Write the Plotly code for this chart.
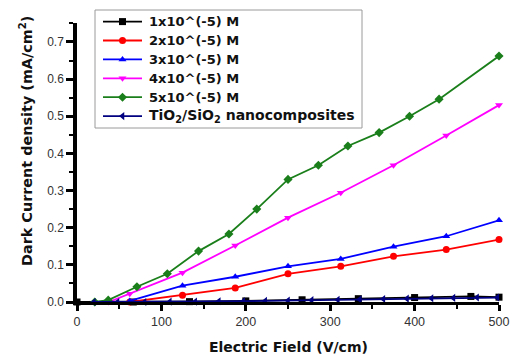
import plotly.graph_objects as go

# Electric field (V/cm) and dark current density (mA/cm^2) per sample
field_1 = [0, 66.7, 133.3, 200, 266.7, 333.3, 400, 466.7, 500]
dark_1 = [0.0, 0.0, 0.001, 0.003, 0.006, 0.009, 0.012, 0.015, 0.013]

field_2 = [62.5, 125, 187.5, 250, 312.5, 375, 437.5, 500]
dark_2 = [0.0, 0.018, 0.038, 0.076, 0.096, 0.123, 0.141, 0.168]

field_3 = [62.5, 125, 187.5, 250, 312.5, 375, 437.5, 500]
dark_3 = [0.003, 0.044, 0.068, 0.096, 0.116, 0.149, 0.177, 0.220]

field_4 = [37.5, 62.5, 125, 187.5, 250, 312.5, 375, 437.5, 500]
dark_4 = [0.0, 0.022, 0.079, 0.152, 0.227, 0.294, 0.368, 0.448, 0.530]

field_5 = [21, 37, 71, 107, 144, 180, 213, 250, 286, 321, 358, 394, 429, 500]
dark_5 = [0.0, 0.005, 0.041, 0.076, 0.137, 0.183, 0.250, 0.330, 0.368, 0.420,
          0.456, 0.500, 0.546, 0.662]

field_ref = [20, 48, 80, 110, 140, 168, 197, 223, 250, 278, 309, 335, 363, 391,
             420, 446, 474, 498]
dark_ref = [0.0, 0.0, 0.0, 0.001, 0.001, 0.002, 0.002, 0.003, 0.004, 0.005,
            0.006, 0.007, 0.008, 0.009, 0.010, 0.011, 0.012, 0.012]

labels = ["1x10^(-5) M", "2x10^(-5) M", "3x10^(-5) M", "4x10^(-5) M", "5x10^(-5) M",
          "TiO<sub>2</sub>/SiO<sub>2</sub> nanocomposites"]
fields = [field_1, field_2, field_3, field_4, field_5, field_ref]
darks = [dark_1, dark_2, dark_3, dark_4, dark_5, dark_ref]
colors = ["#000000", "#ff0000", "#0000ff", "#ff00ff", "#1a7f1a", "#000080"]
symbols = ["square", "circle", "triangle-up", "triangle-down", "diamond", "triangle-left"]
label_sizes = [13, 13, 13, 13, 13, 14]

FONT = "Liberation Sans, Arial, sans-serif"
BOLD_FONT = "DejaVu Sans, Arial, sans-serif"
MARKER_SIZE = 7

# Figure geometry (pixels) used to place the hand-built legend box
W, H = 511, 356
M_L, M_R, M_T, M_B = 77, 12, 23, 54
PW, PH = W - M_L - M_R, H - M_T - M_B


def px_x(px):
    return (px - M_L) / PW


def px_y(py):
    return (H - M_B - py) / PH


fig = go.Figure()
for name, xs, ys, color, symbol in zip(labels, fields, darks, colors, symbols):
    fig.add_trace(go.Scatter(
        x=xs, y=ys, name=name, mode="lines+markers",
        line=dict(color=color, width=1.8),
        marker=dict(color=color, symbol=symbol, size=MARKER_SIZE),
        cliponaxis=False, showlegend=False,
    ))

# Legend: framed box with a line sample, marker and label per series
LEG_L, LEG_R, LEG_T, LEG_B = 95, 362, 10, 128
ROW0, ROW_H = 21.6, 18.9
SAMPLE_X0, SAMPLE_X1, TEXT_X = 103, 142, 147
SAMPLE_MID = (SAMPLE_X0 + SAMPLE_X1) / 2

shapes = [dict(type="rect", xref="paper", yref="paper",
               x0=px_x(LEG_L), x1=px_x(LEG_R), y0=px_y(LEG_B), y1=px_y(LEG_T),
               line=dict(color="#9a9a9a", width=1), fillcolor="white", layer="below")]
annotations = []
for i, (name, color, symbol, fs) in enumerate(zip(labels, colors, symbols, label_sizes)):
    row_px = ROW0 + i * ROW_H
    row_y = px_y(row_px)
    shapes.append(dict(type="line", xref="paper", yref="paper",
                       x0=px_x(SAMPLE_X0), x1=px_x(SAMPLE_X1), y0=row_y, y1=row_y,
                       line=dict(color=color, width=1.8), layer="below"))
    if row_y > 1:
        # rows above the plotting area get their marker drawn as a shape
        half = MARKER_SIZE / 2
        shapes.append(dict(type="rect", xref="paper", yref="paper",
                           x0=px_x(SAMPLE_MID - half), x1=px_x(SAMPLE_MID + half),
                           y0=px_y(row_px + half), y1=px_y(row_px - half),
                           line=dict(width=0), fillcolor=color, layer="above"))
    else:
        fig.add_trace(go.Scatter(
            x=[px_x(SAMPLE_MID)], y=[row_y], xaxis="x2", yaxis="y2",
            mode="markers", marker=dict(color=color, symbol=symbol, size=MARKER_SIZE),
            cliponaxis=False, showlegend=False, hoverinfo="skip",
        ))
    annotations.append(dict(text="<b>%s</b>" % name, xref="paper", yref="paper",
                            x=px_x(TEXT_X), y=row_y, xanchor="left", yanchor="middle",
                            showarrow=False,
                            font=dict(family=BOLD_FONT, size=fs, color="#111111")))

annotations += [
    dict(text="<b>Electric Field (V/cm)</b>", xref="paper", yref="paper",
         x=0.5, y=px_y(347), xanchor="center", yanchor="middle", showarrow=False,
         font=dict(family=BOLD_FONT, size=14, color="#111111")),
    dict(text="<b>Dark Current density (mA/cm<sup>2</sup>)</b>", xref="paper",
         yref="paper", x=px_x(26), y=px_y(141), xanchor="center", yanchor="middle",
         textangle=-90, showarrow=False,
         font=dict(family=BOLD_FONT, size=14.4, color="#111111")),
]

fig.update_layout(
    width=W, height=H,
    margin=dict(l=M_L, r=M_R, t=M_T, b=M_B),
    paper_bgcolor="white", plot_bgcolor="white",
    font=dict(family=FONT, color="#333333", size=12),
    showlegend=False,
    xaxis=dict(
        range=[0, 500], tickvals=[0, 100, 200, 300, 400, 500],
        showgrid=False, zeroline=False, automargin=False,
        showline=True, linecolor="black", linewidth=2.5,
        ticks="outside", ticklen=6, tickwidth=2.5, tickcolor="black",
        minor=dict(ticks="outside", ticklen=4, tickwidth=2, tickcolor="black", dtick=50),
        tickfont=dict(size=12.5, color="#333333"),
    ),
    yaxis=dict(
        range=[0, 0.751], tickvals=[0, 0.1, 0.2, 0.3, 0.4, 0.5, 0.6, 0.7],
        tickformat=".1f",
        showgrid=False, zeroline=False, automargin=False,
        showline=True, linecolor="black", linewidth=3.5,
        ticks="outside", ticklen=7, tickwidth=2.5, tickcolor="black",
        minor=dict(ticks="outside", ticklen=4, tickwidth=2, tickcolor="black", dtick=0.05),
        tickfont=dict(size=12, color="#333333"),
    ),
    xaxis2=dict(overlaying="x", range=[0, 1], visible=False, fixedrange=True),
    yaxis2=dict(overlaying="y", range=[0, 1], visible=False, fixedrange=True),
    shapes=shapes,
    annotations=annotations,
)

fig.write_html("out.html")
